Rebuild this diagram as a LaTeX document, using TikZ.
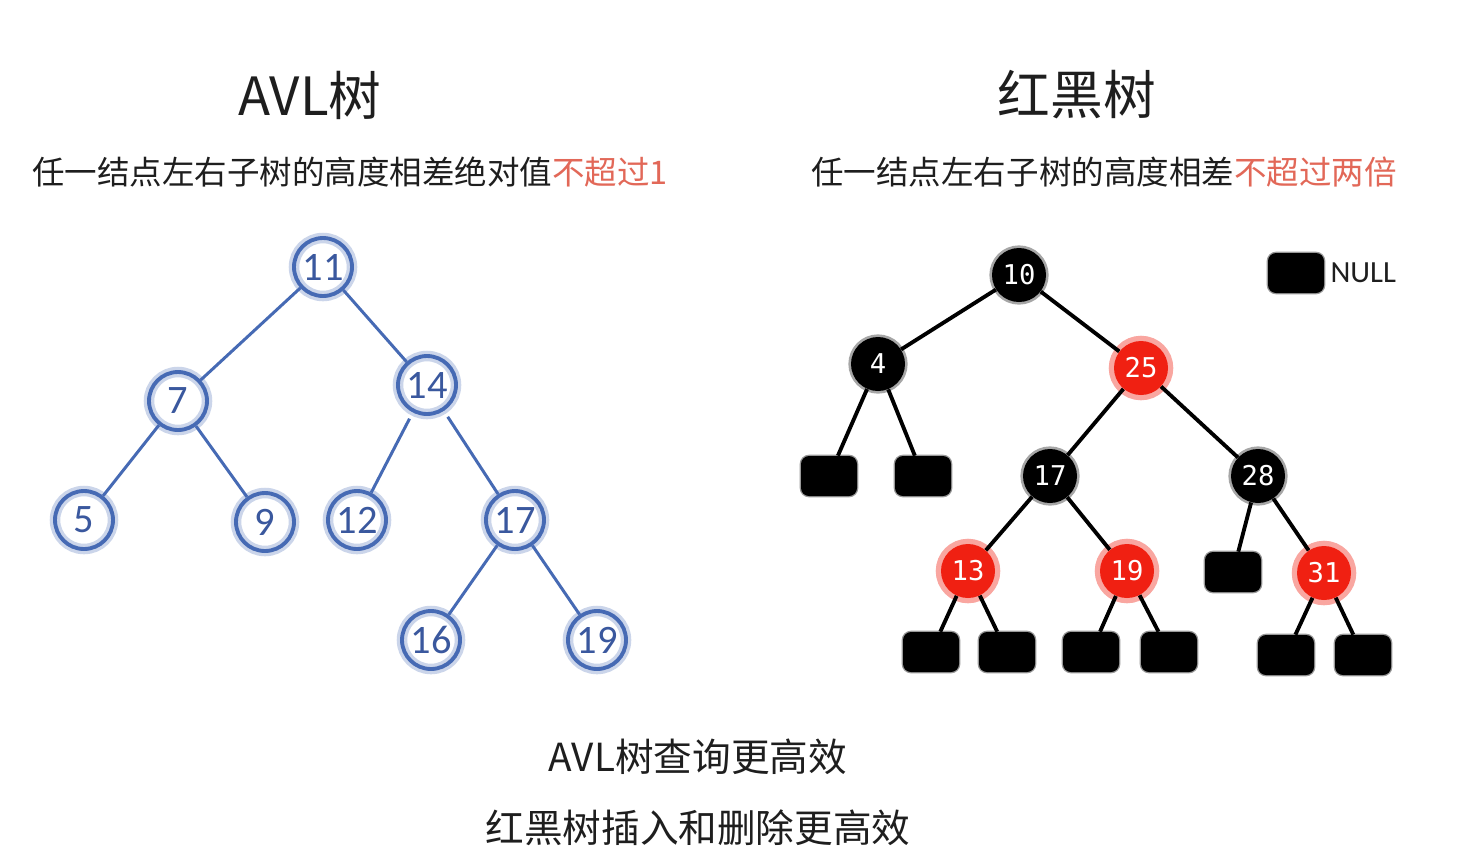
\documentclass[tikz,border=0pt]{standalone}
\usepackage{fontspec}
\setmainfont{Noto Sans CJK SC}
\newfontfamily\avlfont{Carlito}
\newfontfamily\rbfont{DejaVu Sans Mono}
\usetikzlibrary{positioning}
\definecolor{AVLBlue}{RGB}{70,106,180}
\definecolor{AVLText}{RGB}{58,88,158}
\definecolor{RBRed}{RGB}{240,32,18}
\definecolor{NoteRed}{RGB}{226,104,88}
\definecolor{TextDark}{RGB}{30,30,30}

\tikzset{
    avlnode/.style={circle, inner sep=0pt, minimum size=1.16cm,
        preaction={fill=white},
        preaction={draw=AVLBlue!28, line width=6pt},
        draw=AVLBlue, line width=2.2pt,
        text=AVLText, font=\avlfont\fontsize{23}{23}\selectfont},
    avledge/.style={draw=AVLBlue, line width=1.7pt},
    rbblack/.style={circle, inner sep=0pt, minimum size=1.08cm,
        preaction={draw=black!35, line width=3pt},
        fill=black, text=white, font=\rbfont\fontsize{15.5}{15.5}\selectfont},
    rbred/.style={rbblack, preaction={draw=RBRed!40, line width=6pt}, fill=RBRed},
    nullbox/.style={rectangle, rounded corners=0.16cm, inner sep=0pt,
        minimum width=1.12cm, minimum height=0.8cm,
        preaction={draw=black!40, line width=1.5pt}, fill=black},
    rbedge/.style={draw=black, line width=2.2pt},
    titletext/.style={text=TextDark, font=\fontsize{30}{30}\selectfont},
    ruletext/.style={text=TextDark, font=\fontsize{18.5}{18.5}\selectfont},
    summarytext/.style={text=TextDark, font=\fontsize{22}{22}\selectfont}
}

\begin{document}
\begin{tikzpicture}[x=0.02cm, y=-0.02cm]
    \useasboundingbox[fill=white] (0,0) rectangle (1470,860);

    % titles and rules
    \node[titletext] (avltitle) at (310,95) {AVL树};
    \node[titletext] (rbtitle) at (1077,95) {红黑树};
    \node[ruletext] (avlrule) at (350,172) {任一结点左右子树的高度相差绝对值\textcolor{NoteRed}{不超过1}};
    \node[ruletext] (rbrule) at (1104,172) {任一结点左右子树的高度相差\textcolor{NoteRed}{不超过两倍}};

    % AVL tree
    \node[avlnode] (a11) at (323,267) {11};
    \node[avlnode] (a7) at (178,401) {7};
    \node[avlnode] (a14) at (427,385) {14};
    \node[avlnode] (a5) at (84,520) {5};
    \node[avlnode] (a9) at (265,522) {9};
    \node[avlnode] (a12) at (357,520) {12};
    \node[avlnode] (a17) at (515,520) {17};
    \node[avlnode] (a16) at (431,640) {16};
    \node[avlnode] (a19) at (597,640) {19};
    \draw[avledge] (a11) -- (a7);
    \draw[avledge] (a11) -- (a14);
    \draw[avledge] (a7) -- (a5);
    \draw[avledge] (a7) -- (a9);
    \draw[avledge, shorten <=4pt] (a14) -- (a12);
    \draw[avledge, shorten <=4pt] (a14) -- (a17);
    \draw[avledge] (a17) -- (a16);
    \draw[avledge] (a17) -- (a19);

    % red-black tree
    \node[rbblack] (r10) at (1019,275) {10};
    \node[rbblack] (r4) at (878,364) {4};
    \node[rbred] (r25) at (1141,368) {25};
    \node[rbblack] (r17) at (1050,476) {17};
    \node[rbblack] (r28) at (1258,476) {28};
    \node[rbred] (r13) at (968,571) {13};
    \node[rbred] (r19) at (1127,571) {19};
    \node[rbred] (r31) at (1324,573) {31};
    \node[nullbox] (n4l) at (829,476) {};
    \node[nullbox] (n4r) at (923,476) {};
    \node[nullbox] (n13l) at (931,652) {};
    \node[nullbox] (n13r) at (1007,652) {};
    \node[nullbox] (n19l) at (1091,652) {};
    \node[nullbox] (n19r) at (1169,652) {};
    \node[nullbox] (n28l) at (1233,572) {};
    \node[nullbox] (n31l) at (1286,655) {};
    \node[nullbox] (n31r) at (1363,655) {};
    \draw[rbedge] (r10) -- (r4);
    \draw[rbedge] (r10) -- (r25);
    \draw[rbedge] (r4) -- (n4l);
    \draw[rbedge] (r4) -- (n4r);
    \draw[rbedge] (r25) -- (r17);
    \draw[rbedge] (r25) -- (r28);
    \draw[rbedge] (r17) -- (r13);
    \draw[rbedge] (r17) -- (r19);
    \draw[rbedge] (r28) -- (n28l);
    \draw[rbedge] (r28) -- (r31);
    \draw[rbedge] (r13) -- (n13l);
    \draw[rbedge] (r13) -- (n13r);
    \draw[rbedge] (r19) -- (n19l);
    \draw[rbedge] (r19) -- (n19r);
    \draw[rbedge] (r31) -- (n31l);
    \draw[rbedge] (r31) -- (n31r);

    % legend
    \node[nullbox] (legendbox) at (1296,273) {};
    \node[right=0pt of legendbox, text=TextDark, font=\avlfont\fontsize{17.5}{17.5}\selectfont] (legendtext) {NULL};

    % summary
    \node[summarytext] (summary1) at (698,757) {AVL树查询更高效};
    \node[summarytext] (summary2) at (698,828) {红黑树插入和删除更高效};
\end{tikzpicture}
\end{document}
